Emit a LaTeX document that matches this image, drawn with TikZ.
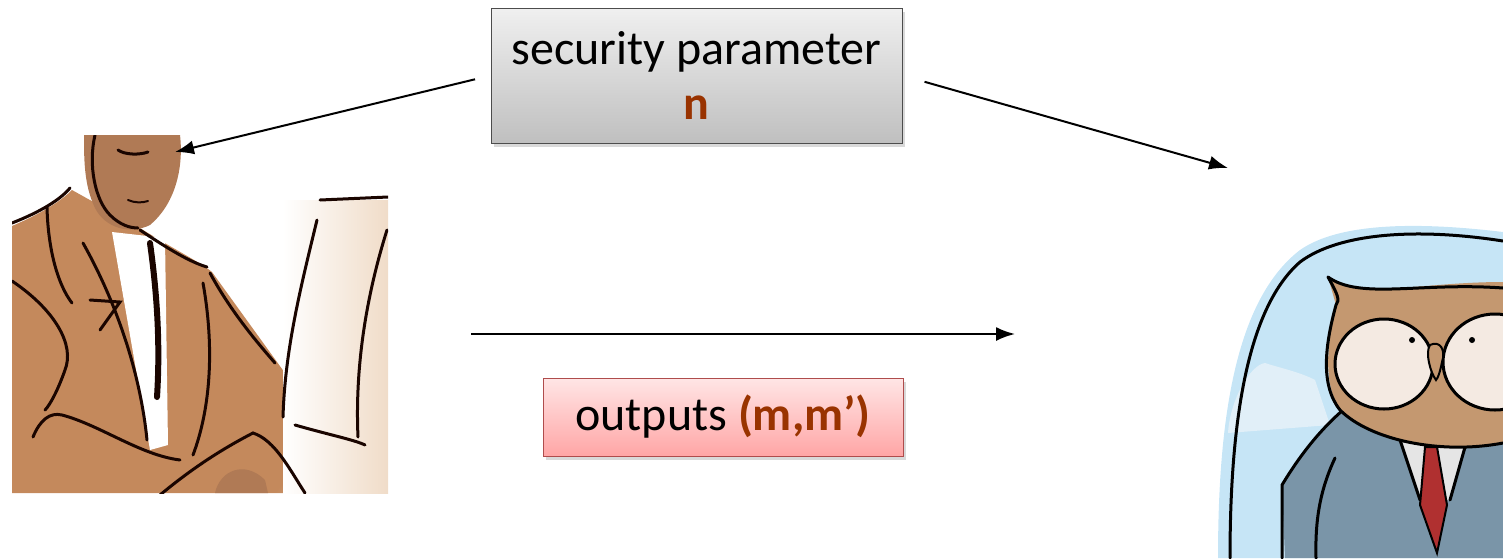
\documentclass[tikz,border=0pt]{standalone}
\usepackage{fontspec}
\setmainfont{Carlito}
\usepackage{tikz}
\usetikzlibrary{arrows.meta,shadows}

\definecolor{keybrown}{RGB}{153,51,0}
\definecolor{skin}{RGB}{176,122,85}
\definecolor{suitbrown}{RGB}{196,137,92}
\definecolor{screen}{RGB}{240,220,200}
\definecolor{inkline}{RGB}{26,5,0}
\definecolor{sky}{RGB}{198,229,246}
\definecolor{cloud}{RGB}{225,239,248}
\definecolor{owlbrown}{RGB}{196,152,112}
\definecolor{owleye}{RGB}{244,234,226}
\definecolor{suitblue}{RGB}{122,149,168}
\definecolor{tiered}{RGB}{176,48,48}

\pgfdeclareradialshading{bodyfade}{\pgfpoint{0bp}{0bp}}{%
  color(0bp)=(suitbrown); color(22bp)=(suitbrown); color(36bp)=(white); color(50bp)=(white)}

\tikzset{
  paramBox/.style={draw=black!70,thick,top color=black!6,bottom color=black!25,
    drop shadow={shadow xshift=3pt,shadow yshift=-4pt,opacity=0.3},
    minimum width=411pt,minimum height=135pt,inner sep=0pt,align=center},
  outBox/.style={draw=red!55!black!70,thick,top color=red!10,bottom color=red!35,
    drop shadow={shadow xshift=3pt,shadow yshift=-4pt,opacity=0.3},
    minimum width=360pt,minimum height=78pt,inner sep=0pt},
  arr/.style={-{Latex[length=19pt,width=14pt]},line width=2pt},
  ink/.style={draw=inkline,line width=3pt,line cap=round},
  owlink/.style={draw=black,line width=3pt,line cap=round}
}

\begin{document}
\begin{tikzpicture}[x=1pt,y=-1pt]
\useasboundingbox (0,0) rectangle (1503,558);
\fontsize{48}{55}\selectfont

% the sender
\begin{scope}
\clip (12,135) rectangle (388,493);
\begin{scope}
\clip (12,226) .. controls (40,214) and (60,202) .. (72,190) -- (140,228)
  .. controls (175,250) and (200,262) .. (212,272) -- (290,380) -- (290,493) -- (12,493) -- cycle;
\shade[shading=bodyfade] (120,370) ellipse [x radius=230, y radius=215];
\end{scope}
\fill[white] (112,232) -- (165,238) -- (168,445) -- (150,450) -- cycle;
\fill[skin] (84,135) -- (180,135) .. controls (184,170) and (174,205) .. (150,225)
  .. controls (130,235) and (105,228) .. (95,208) .. controls (84,185) and (84,160) .. (84,135) -- cycle;
\shade[left color=white,right color=screen] (283,200) rectangle (388,493);
\draw[ink] (12,223) .. controls (40,212) and (60,200) .. (70,188);
\draw[ink] (47,207) .. controls (48,250) and (58,285) .. (72,303);
\draw[ink] (12,281) .. controls (55,310) and (75,345) .. (65,370) .. controls (58,390) and (50,405) .. (45,410);
\draw[ink] (83,243) .. controls (115,300) and (140,370) .. (147,440);
\draw[ink,line width=6pt] (150,243) .. controls (158,300) and (160,350) .. (157,397);
\draw[ink] (140,230) .. controls (170,250) and (190,262) .. (207,267);
\draw[ink] (203,283) .. controls (215,350) and (210,410) .. (193,455);
\draw[ink] (210,273) .. controls (230,310) and (255,340) .. (275,363);
\draw[ink] (90,300) -- (120,302) -- (100,330);
\draw[ink] (33,437) .. controls (40,420) and (50,412) .. (62,415) .. controls (100,425) and (140,455) .. (180,460);
\draw[ink] (95,135) .. controls (88,165) and (95,200) .. (110,215) .. controls (120,225) and (130,228) .. (138,228);
\draw[ink] (118,150) .. controls (125,155) and (140,155) .. (148,152);
\draw[ink,line width=2pt] (128,200) .. controls (135,203) and (142,203) .. (148,201);
\draw[ink] (160,495) .. controls (190,470) and (220,450) .. (253,433) .. controls (275,440) and (290,470) .. (305,493);
\fill[skin] (215,493) .. controls (220,470) and (245,460) .. (265,480) -- (268,493) -- cycle;
\draw[ink] (317,220) .. controls (300,290) and (285,350) .. (283,417);
\draw[ink] (320,200) -- (388,197);
\draw[ink] (387,230) .. controls (365,300) and (355,370) .. (358,437);
\draw[ink] (295,425) .. controls (330,435) and (355,440) .. (365,445);
\end{scope}

% the receiver
\begin{scope}
\clip (1205,200) rectangle (1503,558);
\fill[sky] (1218,558) .. controls (1218,420) and (1235,300) .. (1300,250)
  .. controls (1340,222) and (1420,222) .. (1503,232) -- (1503,558) -- cycle;
\fill[cloud] (1228,433) .. controls (1230,400) and (1250,365) .. (1265,363)
  .. controls (1280,368) and (1300,372) .. (1315,380) -- (1330,425) -- cycle;
\draw[owlink] (1230,558) .. controls (1230,430) and (1245,310) .. (1300,262)
  .. controls (1340,232) and (1420,228) .. (1503,241);
\fill[suitblue] (1285,558) -- (1282,485) .. controls (1300,455) and (1320,430) .. (1343,410)
  -- (1503,420) -- (1503,558) -- cycle;
\draw[owlink] (1282,558) -- (1282,485) .. controls (1300,455) and (1320,430) .. (1343,410);
\draw[owlink] (1335,458) .. controls (1320,490) and (1315,520) .. (1316,558);
\fill[black!10] (1400,440) -- (1467,440) -- (1450,500) -- (1420,500) -- cycle;
\draw[owlink] (1400,440) -- (1420,500);
\draw[owlink] (1467,440) -- (1450,500);
\fill[tiered,draw=black,line width=2pt] (1425,447) -- (1437,447) -- (1447,505) -- (1437,553) -- (1420,505) -- cycle;
\fill[owlbrown] (1328,277) .. controls (1360,300) and (1420,282) .. (1503,282) -- (1503,443)
  .. controls (1440,455) and (1370,440) .. (1340,410) .. controls (1320,380) and (1330,330) .. (1336,305) -- cycle;
\draw[owlink] (1328,277) .. controls (1338,295) and (1340,300) .. (1336,305)
  .. controls (1325,345) and (1320,385) .. (1340,410) .. controls (1370,440) and (1440,455) .. (1503,443);
\draw[owlink] (1328,277) .. controls (1360,300) and (1420,282) .. (1503,288);
\fill[owleye,draw=black,line width=3pt] (1384,364) ellipse [x radius=49, y radius=45];
\fill[owleye,draw=black,line width=3pt] (1495,362) ellipse [x radius=52, y radius=48];
\fill[black] (1412,340) circle (3);
\fill[black] (1472,340) circle (3);
\fill[owlbrown,draw=black,line width=2pt] (1430,345) .. controls (1440,340) and (1446,350) .. (1442,362)
  .. controls (1440,372) and (1438,378) .. (1436,380) .. controls (1430,372) and (1425,352) .. (1430,345) -- cycle;
\end{scope}

% boxes
\node[paramBox] (sec) at (696.5,75.5) {security parameter\\\textbf{\color{keybrown}n}};
\node[outBox] (out) at (723,417) {outputs \textbf{\color{keybrown}(m,m’)}};

\coordinate (alice) at (175,152);
\coordinate (bob) at (1228,168);
\coordinate (msgL) at (471,334);
\coordinate (msgR) at (1015,334);

\draw[arr,shorten <=16pt] (sec.west) -- (alice);
\draw[arr,shorten <=23pt] (sec.east) -- (bob);
\draw[arr] (msgL) -- (msgR);
\end{tikzpicture}
\end{document}
